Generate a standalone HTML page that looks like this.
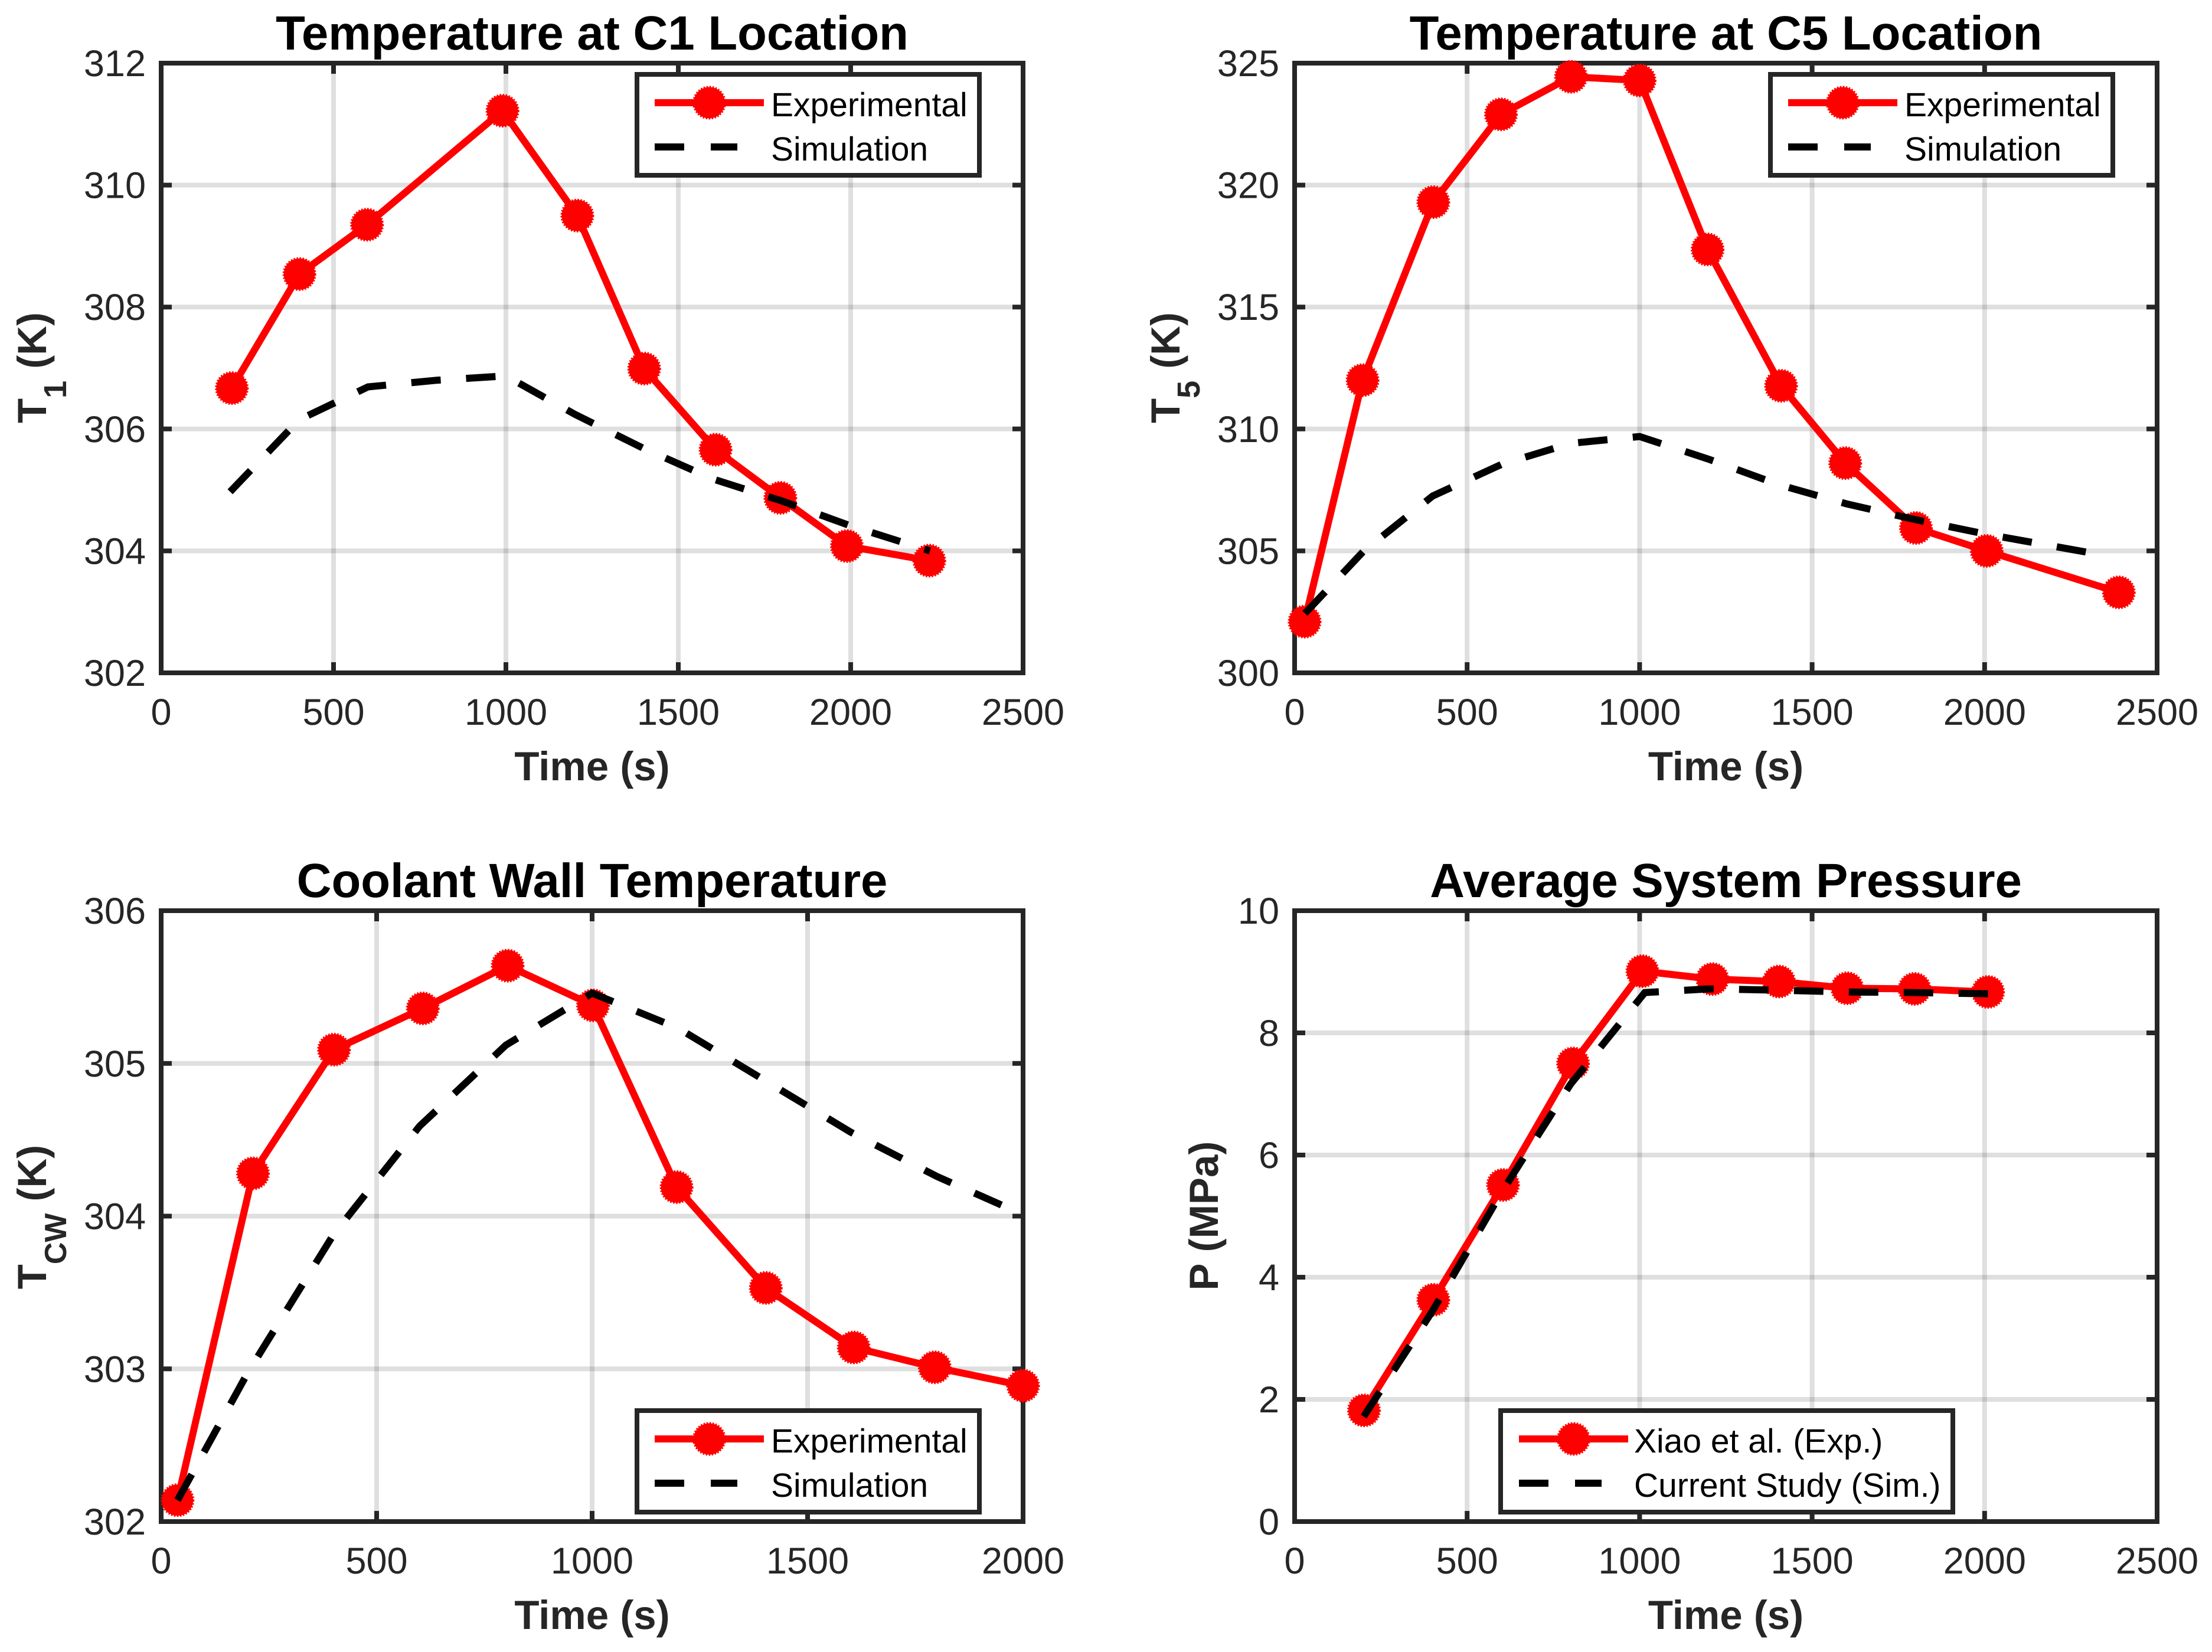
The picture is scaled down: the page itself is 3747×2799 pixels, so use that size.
<!DOCTYPE html>
<html lang="en">
<head>
<meta charset="utf-8">
<title>Temperature and Pressure Validation Charts</title>
<style>
  html, body { margin: 0; padding: 0; background: #fff; }
  svg { display: block; }
  text { font-family: "Liberation Sans", Arial, sans-serif; text-rendering: geometricPrecision; }
  .tick { font-size: 63px; fill: #262626; }
  .title { font-size: 81.5px; font-weight: bold; fill: #000; text-anchor: middle; }
  .axis-label { font-size: 69px; font-weight: bold; fill: #262626; text-anchor: middle; }
  .legend-text { font-size: 57px; fill: #000; }
</style>
</head>
<body>
<svg id="figure" xmlns="http://www.w3.org/2000/svg" width="3747" height="2799" viewBox="0 0 3747 2799"></svg>
<script>
// ---- Chart data: Temperature at C1 ----
const c1ExpTime = [205, 401, 597, 990, 1207, 1401, 1608, 1796, 1989, 2228];
const c1ExpTemp = [306.67, 308.54, 309.35, 311.22, 309.5, 306.99, 305.66, 304.87, 304.08, 303.84];
const c1SimTime = [200, 400, 600, 800, 1000, 1200, 1400, 1600, 1800, 2000, 2230];
const c1SimTemp = [304.97, 306.15, 306.69, 306.8, 306.87, 306.24, 305.68, 305.18, 304.82, 304.41, 304.0];
const c1XTicks = [0, 500, 1000, 1500, 2000, 2500];
const c1YTicks = [302, 304, 306, 308, 310, 312];

// ---- Chart data: Temperature at C5 ----
const c5ExpTime = [29, 197, 402, 598, 801, 1000, 1197, 1410, 1596, 1801, 2006, 2389];
const c5ExpTemp = [302.1, 312.0, 319.3, 322.9, 324.44, 324.29, 317.36, 311.77, 308.6, 305.94, 305.0, 303.3];
const c5SimTime = [30, 200, 400, 600, 800, 1000, 1200, 1400, 1600, 1800, 2000, 2355];
const c5SimTemp = [302.44, 304.99, 307.25, 308.55, 309.41, 309.69, 308.76, 307.73, 306.93, 306.28, 305.7, 304.8];
const c5XTicks = [0, 500, 1000, 1500, 2000, 2500];
const c5YTicks = [300, 305, 310, 315, 320, 325];

// ---- Chart data: Coolant Wall Temperature ----
const cwExpTime = [38, 213, 401, 607, 804, 1002, 1196, 1403, 1607, 1795, 2000];
const cwExpTemp = [302.14, 304.28, 305.09, 305.36, 305.64, 305.38, 304.19, 303.53, 303.14, 303.01, 302.89];
const cwSimTime = [38, 200, 400, 600, 800, 1000, 1200, 1400, 1600, 1800, 2000];
const cwSimTemp = [302.14, 302.97, 303.88, 304.59, 305.12, 305.46, 305.23, 304.89, 304.55, 304.26, 304.01];
const cwXTicks = [0, 500, 1000, 1500, 2000];
const cwYTicks = [302, 303, 304, 305, 306];

// ---- Chart data: Average System Pressure ----
const prExpTime = [201, 402, 604, 807, 1008, 1211, 1404, 1602, 1797, 2010];
const prExpVal = [1.82, 3.63, 5.51, 7.5, 9.01, 8.88, 8.84, 8.73, 8.72, 8.67];
const prSimTime = [200, 400, 600, 800, 1015, 1200, 1400, 1600, 1800, 2010];
const prSimVal = [1.72, 3.45, 5.39, 7.16, 8.66, 8.72, 8.7, 8.67, 8.66, 8.64];
const prXTicks = [0, 500, 1000, 1500, 2000, 2500];
const prYTicks = [0, 2, 4, 6, 8, 10];

const NS = 'http://www.w3.org/2000/svg';
const svg = document.getElementById('figure');

const panels = [
  { id: 'c1', left: 273, right: 1733, top: 107, bottom: 1140,
    expX: c1ExpTime, expY: c1ExpTemp, simX: c1SimTime, simY: c1SimTemp, xTicks: c1XTicks, yTicks: c1YTicks,
    title: 'Temperature at C1 Location', yMain: 'T', ySub: '1', yRest: '(K)', labelX: 78, labelY: 623,
    legend: { l: 1079, r: 1659, t: 126, b: 297, lineL: 1109, textX: 1306 }, expName: 'Experimental', simName: 'Simulation' },
  { id: 'c5', left: 2193, right: 3654, top: 107, bottom: 1140,
    expX: c5ExpTime, expY: c5ExpTemp, simX: c5SimTime, simY: c5SimTemp, xTicks: c5XTicks, yTicks: c5YTicks,
    title: 'Temperature at C5 Location', yMain: 'T', ySub: '5', yRest: '(K)', labelX: 1998, labelY: 623,
    legend: { l: 2999, r: 3579, t: 126, b: 297, lineL: 3029, textX: 3226 }, expName: 'Experimental', simName: 'Simulation' },
  { id: 'cw', left: 273, right: 1733, top: 1543, bottom: 2578,
    expX: cwExpTime, expY: cwExpTemp, simX: cwSimTime, simY: cwSimTemp, xTicks: cwXTicks, yTicks: cwYTicks,
    title: 'Coolant Wall Temperature', yMain: 'T', ySub: 'CW', yRest: '(K)', labelX: 78, labelY: 2062,
    legend: { l: 1079, r: 1659, t: 2390, b: 2562, lineL: 1109, textX: 1306 }, expName: 'Experimental', simName: 'Simulation' },
  { id: 'pressure', left: 2193, right: 3654, top: 1543, bottom: 2578,
    expX: prExpTime, expY: prExpVal, simX: prSimTime, simY: prSimVal, xTicks: prXTicks, yTicks: prYTicks,
    title: 'Average System Pressure', yMain: 'P', ySub: '', yRest: '(MPa)', labelX: 2063, labelY: 2060,
    legend: { l: 2542, r: 3308, t: 2390, b: 2562, lineL: 2573, textX: 2768 }, expName: 'Xiao et al. (Exp.)', simName: 'Current Study (Sim.)' }
];

function make(parent, tag, attrs) {
  const el = document.createElementNS(NS, tag);
  for (const k in attrs) el.setAttribute(k, attrs[k]);
  parent.appendChild(el);
  return el;
}
function pointsOf(xs, ys, sx, sy) {
  return xs.map(function (v, i) { return sx(v).toFixed(1) + ',' + sy(ys[i]).toFixed(1); }).join(' ');
}
function marker(parent, cx, cy) {
  return make(parent, 'circle', { cx: cx, cy: cy, r: 26.5, fill: '#ff0000', stroke: '#ff0000', 'stroke-width': 4, 'stroke-dasharray': '2.5 2.5' });
}

panels.forEach(function (p) {
  const xMin = p.xTicks[0], xMax = p.xTicks[p.xTicks.length - 1];
  const yMin = p.yTicks[0], yMax = p.yTicks[p.yTicks.length - 1];
  const sx = function (v) { return p.left + (v - xMin) / (xMax - xMin) * (p.right - p.left); };
  const sy = function (v) { return p.bottom - (v - yMin) / (yMax - yMin) * (p.bottom - p.top); };
  const cx = (p.left + p.right) / 2;

  const g = make(svg, 'g', {});
  
  

  const clipEl = make(g, 'clipPath', { id: 'clip-' + p.id });
  make(clipEl, 'rect', { x: p.left, y: p.top, width: p.right - p.left, height: p.bottom - p.top });

  // grid lines (translucent, so crossings darken)
  p.xTicks.slice(1, -1).forEach(function (t) {
    const line = make(g, 'line', { x1: sx(t), x2: sx(t), y1: p.top, y2: p.bottom, stroke: '#262626', 'stroke-opacity': 0.15, 'stroke-width': 8 });
    
    
  });
  p.yTicks.slice(1, -1).forEach(function (t) {
    const line = make(g, 'line', { x1: p.left, x2: p.right, y1: sy(t), y2: sy(t), stroke: '#262626', 'stroke-opacity': 0.15, 'stroke-width': 8 });
    
    
  });

  // ticks and tick labels
  p.xTicks.forEach(function (t) {
    const a = make(g, 'line', { x1: sx(t), x2: sx(t), y1: p.bottom, y2: p.bottom - 18, stroke: '#262626', 'stroke-width': 8 });
    
    
    const b = make(g, 'line', { x1: sx(t), x2: sx(t), y1: p.top, y2: p.top + 18, stroke: '#262626', 'stroke-width': 8 });
    
    
    const lab = make(g, 'text', { class: 'tick', x: sx(t), y: p.bottom + 88, 'text-anchor': 'middle' });
    lab.textContent = String(t);
    
    
  });
  p.yTicks.forEach(function (t) {
    const a = make(g, 'line', { x1: p.left, x2: p.left + 18, y1: sy(t), y2: sy(t), stroke: '#262626', 'stroke-width': 8 });
    
    
    const b = make(g, 'line', { x1: p.right, x2: p.right - 18, y1: sy(t), y2: sy(t), stroke: '#262626', 'stroke-width': 8 });
    
    
    const lab = make(g, 'text', { class: 'tick', x: p.left - 26, y: sy(t) + 22, 'text-anchor': 'end' });
    lab.textContent = String(t);
    
    
  });

  // frame
  const frame = make(g, 'rect', { x: p.left, y: p.top, width: p.right - p.left, height: p.bottom - p.top, fill: 'none', stroke: '#262626', 'stroke-width': 8 });
  
  

  // title and axis labels
  const title = make(g, 'text', { class: 'title', x: cx, y: p.top - 23 });
  title.textContent = p.title;
  
  

  const xLabel = make(g, 'text', { class: 'axis-label', x: cx, y: p.bottom + 182 });
  xLabel.textContent = 'Time (s)';
  
  

  const yLabel = make(g, 'text', { class: 'axis-label', x: p.labelX, y: p.labelY, transform: 'rotate(-90 ' + p.labelX + ' ' + p.labelY + ')' });
  
  
  const main = make(yLabel, 'tspan', {});
  main.textContent = p.yMain;
  if (p.ySub) {
    const sub = make(yLabel, 'tspan', { dy: 34, 'font-size': p.ySub.length > 1 ? 52 : 54 });
    sub.textContent = p.ySub;
    const rest = make(yLabel, 'tspan', { dy: -34, dx: 20 });
    rest.textContent = p.yRest;
  } else {
    const rest = make(yLabel, 'tspan', { dx: 19 });
    rest.textContent = p.yRest;
  }

  // experimental series
  const expGroup = make(g, 'g', {});
  
  
  const expLine = make(expGroup, 'polyline', { points: pointsOf(p.expX, p.expY, sx, sy), fill: 'none', stroke: '#ff0000', 'stroke-width': 12, 'stroke-linejoin': 'round' });
  
  
  p.expX.forEach(function (v, i) {
    const m = marker(expGroup, sx(v), sy(p.expY[i]));
    
    
  });

  // simulation series
  const simLine = make(g, 'polyline', { points: pointsOf(p.simX, p.simY, sx, sy), fill: 'none', stroke: '#000', 'stroke-width': 12, 'stroke-dasharray': '50 43', 'clip-path': 'url(#clip-' + p.id + ')' });
  
  

  // legend
  const L = p.legend;
  const lg = make(g, 'g', {});
  
  
  const box = make(lg, 'rect', { x: L.l, y: L.t, width: L.r - L.l, height: L.b - L.t, fill: '#fff', stroke: '#262626', 'stroke-width': 8 });
  
  
  const y1 = L.t + 48, y2 = L.t + 123;
  const lineR = L.lineL + 185;
  const k1 = make(lg, 'line', { x1: L.lineL, x2: lineR, y1: y1, y2: y1, stroke: '#ff0000', 'stroke-width': 12 });
  
  
  const k1m = marker(lg, (L.lineL + lineR) / 2, y1);
  
  
  const k2 = make(lg, 'line', { x1: L.lineL, x2: L.lineL + 140, y1: y2, y2: y2, stroke: '#000', 'stroke-width': 12, 'stroke-dasharray': '50 45' });
  
  
  const t1 = make(lg, 'text', { class: 'legend-text', x: L.textX, y: L.t + 71 });
  t1.textContent = p.expName;
  
  
  const t2 = make(lg, 'text', { class: 'legend-text', x: L.textX, y: L.t + 146 });
  t2.textContent = p.simName;
  
  
});
</script>
</body>
</html>
